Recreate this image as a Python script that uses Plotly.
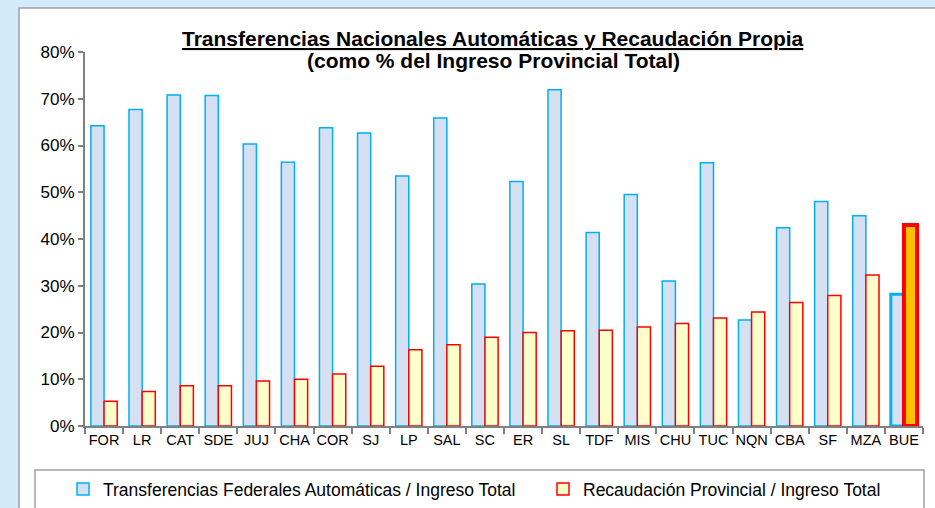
import plotly.graph_objects as go

provincias = ["FOR", "LR", "CAT", "SDE", "JUJ", "CHA", "COR", "SJ", "LP", "SAL", "SC",
              "ER", "SL", "TDF", "MIS", "CHU", "TUC", "NQN", "CBA", "SF", "MZA", "BUE"]
transferencias = [64.2, 67.7, 70.8, 70.7, 60.3, 56.4, 63.8, 62.7, 53.5, 65.9, 30.4,
                  52.3, 71.9, 41.4, 49.5, 31.0, 56.3, 22.7, 42.4, 48.0, 45.0, 28.2]
recaudacion = [5.3, 7.4, 8.6, 8.6, 9.6, 10.0, 11.1, 12.8, 16.3, 17.4, 19.0,
               20.0, 20.4, 20.5, 21.2, 21.9, 23.1, 24.4, 26.4, 27.9, 32.3, 43.0]
y_ticks = [0, 10, 20, 30, 40, 50, 60, 70, 80]
y_tick_labels = [f"{v}%" for v in y_ticks]
titulo_1 = "Transferencias Nacionales Automáticas y Recaudación Propia"
titulo_2 = "(como % del Ingreso Provincial Total)"
destacada = "BUE"

W, H = 935, 508
L, R, T, B = 85, 12, 52, 82
pw, ph = W - L - R, H - T - B
BG = "#d3eafb"


def px_x(x):
    return (x - L) / pw


def px_y(y):
    return (H - B - y) / ph


def cx(x):
    return x / W


def cy(y):
    return 1 - y / H


FONT = "Liberation Sans, Arial, sans-serif"

blue_line_w = [3 if p == destacada else 1.5 for p in provincias]
red_fill = ["#ffc000" if p == destacada else "#ffffcc" for p in provincias]
red_line_w = [4 if p == destacada else 1.5 for p in provincias]

fig = go.Figure()
fig.add_trace(go.Bar(
    x=provincias, y=transferencias,
    name="Transferencias Federales Automáticas / Ingreso Total",
    marker=dict(color="#d6e0f3", line=dict(color="#00b0f0", width=blue_line_w)),
    legend="legend",
))
fig.add_trace(go.Bar(
    x=provincias, y=recaudacion,
    name="Recaudación Provincial / Ingreso Total",
    marker=dict(color=red_fill, line=dict(color="#ff0000", width=red_line_w)),
    legend="legend2",
))

leg_common = dict(
    orientation="h", xanchor="left", yanchor="middle", y=cy(489),
    xref="container", yref="container",
    bgcolor="rgba(0,0,0,0)", borderwidth=0,
    font=dict(family=FONT, size=17.5, color="#000000"),
)

fig.update_layout(
    width=W, height=H, autosize=False,
    margin=dict(l=L, r=R, t=T, b=B, autoexpand=False),
    paper_bgcolor=BG,
    plot_bgcolor="rgba(0,0,0,0)",
    barmode="group", bargap=0.31, bargroupgap=0.0,
    font=dict(family=FONT, size=15, color="#000000"),
    showlegend=True,
    legend=dict(x=cx(63), **leg_common),
    legend2=dict(x=cx(543), **leg_common),
    shapes=[
        dict(type="rect", xref="paper", yref="paper", layer="below",
             x0=px_x(19), x1=px_x(945), y0=px_y(530), y1=px_y(8),
             fillcolor="white", line=dict(color="#a0a0a0", width=1.5)),
        dict(type="rect", xref="paper", yref="paper", layer="below",
             x0=px_x(35), x1=px_x(924), y0=px_y(530), y1=px_y(470),
             fillcolor="white", line=dict(color="#a0a0a0", width=1.5)),
    ],
    annotations=[
        dict(xref="paper", yref="paper", x=px_x(493), y=px_y(38), xanchor="center", yanchor="middle",
             showarrow=False, text=f"<b><u>{titulo_1}</u></b>",
             font=dict(family=FONT, size=21, color="#000000")),
        dict(xref="paper", yref="paper", x=px_x(493), y=px_y(61), xanchor="center", yanchor="middle",
             showarrow=False, text=f"<b>{titulo_2}</b>",
             font=dict(family=FONT, size=21, color="#000000")),
    ],
)

fig.update_xaxes(
    type="category", showline=True, linecolor="#808080", linewidth=2, automargin=False,
    ticks="outside", tickson="boundaries", ticklen=6, tickcolor="#808080", tickwidth=1.5,
    tickangle=0, tickfont=dict(family=FONT, size=14.5), showgrid=False, zeroline=False,
)
fig.update_yaxes(
    range=[0, 80], tickmode="array", tickvals=y_ticks, ticktext=y_tick_labels, automargin=False,
    showline=True, linecolor="#808080", linewidth=2,
    ticks="outside", ticklen=5, tickcolor="#808080", tickwidth=1.5,
    tickfont=dict(family=FONT, size=17), showgrid=False, zeroline=False,
)

fig.write_html(
    "out.html",
    config={"displayModeBar": False},
    post_script=f"document.body.style.margin='0';document.body.style.background='{BG}';",
)
